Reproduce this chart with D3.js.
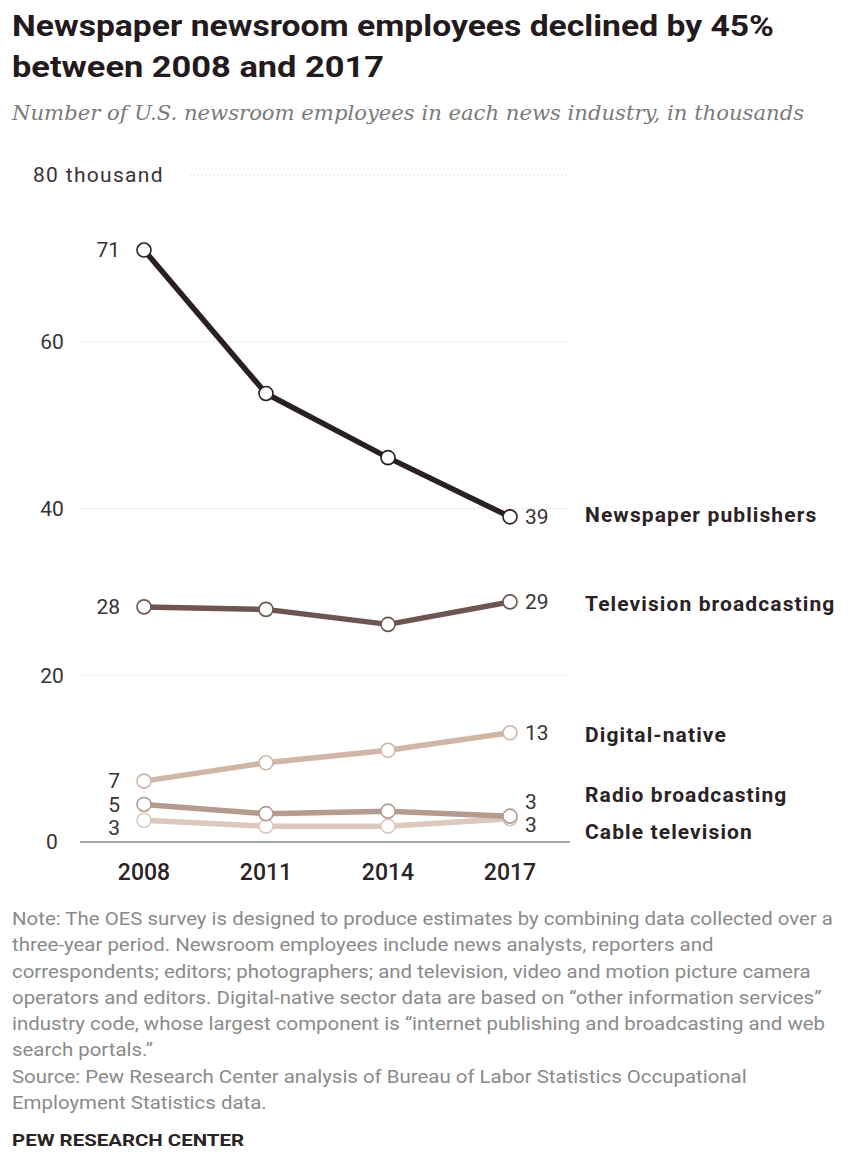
<!DOCTYPE html>
<html>
<head>
<meta charset="utf-8">
<script src="https://cdn.jsdelivr.net/npm/d3@7"></script>
<style>
  body { margin: 0; background: #fff; }
  svg { display: block; }
</style>
</head>
<body>
<svg id="chart" width="848" height="1176"></svg>
<script>
// data (thousands of newsroom employees)
const years = [2008, 2011, 2014, 2017];
const newspaper = [71, 53.8, 46.1, 39];
const television = [28.2, 27.9, 26.1, 28.8];
const digital = [7.3, 9.5, 11, 13.1];
const radio = [4.5, 3.4, 3.7, 3.1];
const cable = [2.6, 1.9, 1.9, 2.8];
const seriesNames = ['Newspaper publishers', 'Television broadcasting', 'Digital-native', 'Radio broadcasting', 'Cable television'];
const firstLabels = ['71', '28', '7', '5', '3'];
const lastLabels = ['39', '29', '13', '3', '3'];
const yTicks = [0, 20, 40, 60, 80];

const colors = ['#2a1f22', '#6e5552', '#cfb6a6', '#b49a8f', '#dcc8bc'];
// label nudges in px so the crowded small series don't collide
const firstNudge = [0, 0, 0, 0, 7];
const lastNudge = [0, 0, 0, -15, 6];
const nameY = [515, 604, 735, 795, 832];

const svg = d3.select('#chart');

const x = d3.scalePoint().domain(years).range([144, 510]);
const y = d3.scaleLinear().domain([0, 80]).range([842, 175]);

// title + subtitle
svg.append('text').attr('x', 12).attr('y', 36)
  .attr('font-family', 'Roboto, sans-serif').attr('font-weight', 700)
  .attr('font-size', 29).attr('fill', '#231a1d')
  .attr('textLength', 762).attr('lengthAdjust', 'spacingAndGlyphs')
  .text('Newspaper newsroom employees declined by 45%');
svg.append('text').attr('x', 12).attr('y', 77)
  .attr('font-family', 'Roboto, sans-serif').attr('font-weight', 700)
  .attr('font-size', 29).attr('fill', '#231a1d')
  .attr('textLength', 372).attr('lengthAdjust', 'spacingAndGlyphs')
  .text('between 2008 and 2017');
svg.append('text').attr('x', 12).attr('y', 120)
  .attr('font-family', '"DejaVu Serif", serif').attr('font-style', 'italic')
  .attr('font-size', 20).attr('fill', '#7a7a7a')
  .attr('textLength', 792).attr('lengthAdjust', 'spacingAndGlyphs')
  .text('Number of U.S. newsroom employees in each news industry, in thousands');

// gridlines
const grid = svg.append('g');
yTicks.filter(d => d > 0).forEach(t => {
  grid.append('line')
    .attr('x1', t === 80 ? 190 : 82).attr('x2', 570)
    .attr('y1', y(t)).attr('y2', y(t))
    .attr('stroke', '#c8c8c8').attr('stroke-width', 1)
    .attr('stroke-dasharray', '1,3');
});
svg.append('line').attr('x1', 80).attr('x2', 570)
  .attr('y1', y(0)).attr('y2', y(0))
  .attr('stroke', '#8c8585').attr('stroke-width', 1.5);

// y tick labels
yTicks.forEach(t => {
  svg.append('text')
    .attr('x', t === 80 ? 33 : 52).attr('y', y(t)).attr('dy', '0.35em')
    .attr('text-anchor', t === 80 ? 'start' : 'middle')
    .attr('font-family', 'Roboto, sans-serif').attr('font-size', 21)
    .attr('letter-spacing', t === 80 ? 1.3 : 0)
    .attr('fill', '#3a3234')
    .text(t === 80 ? '80 thousand' : t);
});

// x axis labels
svg.append('g').selectAll('text').data(years).join('text')
  .attr('x', d => x(d)).attr('y', 880)
  .attr('text-anchor', 'middle')
  .attr('font-family', 'Roboto, sans-serif').attr('font-size', 23)
  .attr('font-weight', 500)
  .attr('fill', '#2a2225')
  .text(d => d);

// lines, drawn bottom series first so the dark ones sit on top
const allSeries = [newspaper, television, digital, radio, cable];
const line = d3.line().x((d, i) => x(years[i])).y(d => y(d));
const order = [4, 3, 2, 1, 0];

order.forEach(s => {
  const g = svg.append('g');
  g.append('path').datum(allSeries[s])
    .attr('d', line).attr('fill', 'none')
    .attr('stroke', colors[s]).attr('stroke-width', 5.5)
    .attr('stroke-linejoin', 'round');
  g.selectAll('circle').data(allSeries[s]).join('circle')
    .attr('cx', (d, i) => x(years[i])).attr('cy', d => y(d))
    .attr('r', 7).attr('fill', '#fff')
    .attr('stroke', colors[s]).attr('stroke-width', 1.6);
});

// value labels at each end + series names
allSeries.forEach((vals, s) => {
  svg.append('text')
    .attr('x', x(2008) - 24).attr('y', y(vals[0]) + firstNudge[s]).attr('dy', '0.35em')
    .attr('text-anchor', 'end')
    .attr('font-family', 'Roboto, sans-serif').attr('font-size', 21)
    .attr('fill', '#3a3234')
    .text(firstLabels[s]);
  svg.append('text')
    .attr('x', x(2017) + 15).attr('y', y(vals[vals.length - 1]) + lastNudge[s]).attr('dy', '0.35em')
    .attr('text-anchor', 'start')
    .attr('font-family', 'Roboto, sans-serif').attr('font-size', 21)
    .attr('fill', '#3a3234')
    .text(lastLabels[s]);
  svg.append('text')
    .attr('x', 585).attr('y', nameY[s]).attr('dy', '0.35em')
    .attr('font-family', 'Roboto, sans-serif').attr('font-weight', 700)
    .attr('font-size', 21).attr('letter-spacing', 1.1)
    .attr('fill', '#2a2225')
    .text(seriesNames[s]);
});

// note + source
const noteLines = [
  'Note: The OES survey is designed to produce estimates by combining data collected over a',
  'three-year period. Newsroom employees include news analysts, reporters and',
  'correspondents; editors; photographers; and television, video and motion picture camera',
  'operators and editors. Digital-native sector data are based on \u201cother information services\u201d',
  'industry code, whose largest component is \u201cinternet publishing and broadcasting and web',
  'search portals.\u201d',
  'Source: Pew Research Center analysis of Bureau of Labor Statistics Occupational',
  'Employment Statistics data.'
];
svg.append('g').attr('transform', 'translate(12,0) scale(1.075,1)')
  .selectAll('text').data(noteLines).join('text')
  .attr('x', 0).attr('y', (d, i) => 925 + i * 26.3)
  .attr('font-family', 'Roboto, sans-serif').attr('font-size', 19)
  .attr('fill', '#8a8a8a')
  .text(d => d);

svg.append('text').attr('x', 12).attr('y', 1146)
  .attr('font-family', 'Roboto, sans-serif').attr('font-weight', 700)
  .attr('font-size', 17).attr('fill', '#2a2225')
  .attr('textLength', 232).attr('lengthAdjust', 'spacingAndGlyphs')
  .text('PEW RESEARCH CENTER');
</script>
</body>
</html>
